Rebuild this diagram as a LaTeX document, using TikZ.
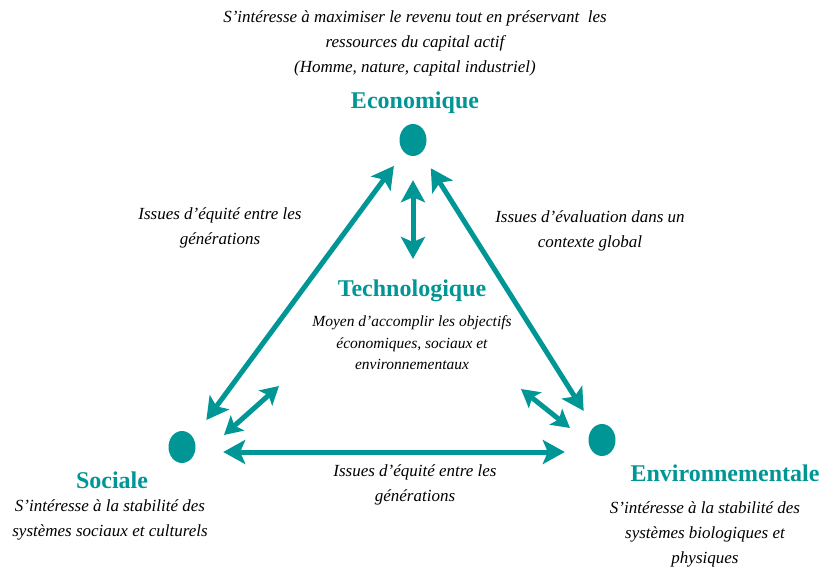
\documentclass[tikz,border=0pt]{standalone}
\usepackage{fontspec}
\setmainfont{Liberation Serif}
\usetikzlibrary{shapes.geometric, arrows.meta}
\definecolor{tealcolor}{RGB}{0, 150, 150}
\tikzset{
    % Corner dots
    dotnode/.style={
        ellipse, fill=tealcolor, inner sep=0pt,
        minimum width=27pt, minimum height=32pt
    },
    % Texts
    titlenode/.style={font=\fontsize{24}{28}\selectfont\bfseries, text=tealcolor, inner sep=0pt},
    notenode/.style={font=\fontsize{17}{25}\selectfont\itshape, align=center, inner sep=0pt},
    smallnote/.style={font=\fontsize{15.5}{21.5}\selectfont\itshape, align=center, inner sep=0pt},
    % Arrows
    myarrow/.style={
        {Stealth[length=22pt, width=24pt, inset=5pt]}-{Stealth[length=22pt, width=24pt, inset=5pt]},
        line width=5pt, tealcolor
    },
    smallarrow/.style={
        {Stealth[length=18pt, width=20pt, inset=4pt]}-{Stealth[length=18pt, width=20pt, inset=4pt]},
        line width=5pt, tealcolor
    },
}

\begin{document}
\begin{tikzpicture}[x=1pt, y=-1pt]
\useasboundingbox (0,0) rectangle (825,570);

% ===== Economique =====
\node (econote) [notenode] at (415,43) {
    S'intéresse à maximiser le revenu tout en préservant~ les\\
    ressources du capital actif\\
    (Homme, nature, capital industriel)
};
\node (econame) [titlenode] at (415,103) {Economique};
\node (eco) [dotnode] at (413,140) {};

% ===== Technologique =====
\node (techname) [titlenode] at (412,291) {Technologique};
\node (technote) [smallnote] at (412,343) {
    Moyen d'accomplir les objectifs\\
    économiques, sociaux et\\
    environnementaux
};

% ===== Sociale =====
\node (soc) [dotnode] at (182,447) {};
\node (socname) [titlenode] at (112,480) {Sociale};
\node (socnote) [notenode] at (110,520) {
    S'intéresse à la stabilité des\\
    systèmes sociaux et culturels
};

% ===== Environnementale =====
\node (env) [dotnode] at (602,440) {};
\node (envname) [titlenode] at (725,473) {Environnementale};
\node (envnote) [notenode] at (705,534) {
    S'intéresse à la stabilité des\\
    systèmes biologiques et\\
    physiques
};

% ===== Labels on the sides =====
\node (lblleft) [notenode] at (220,228) {Issues d'équité entre les\\ générations};
\node (lblright) [notenode] at (590,231) {Issues d'évaluation dans un\\ contexte global};
\node (lblbottom) [notenode] at (415,485) {Issues d'équité entre les\\ générations};

% ===== Arrows =====
\draw[myarrow, shorten <=41pt, shorten >=17pt] ([yshift=-6pt]soc.center) -- (eco);
\draw[myarrow, shorten <=18pt, shorten >=19pt] (eco) -- (env);
\draw[myarrow, shorten <=27.5pt, shorten >=23.5pt]
    ([yshift=-5pt]soc.east) -- ([yshift=-5pt]soc.east -| env.west);

% Towards Technologique
\coordinate (techtop) at (413,259);
\draw[myarrow, shorten <=24pt] (eco.south) -- (techtop);
\coordinate (socout) at (224,435);
\coordinate (socin) at (279,386);
\draw[smallarrow] (socout) -- (socin);
\coordinate (envin) at (521,389);
\coordinate (envout) at (570,428);
\draw[smallarrow] (envin) -- (envout);

\end{tikzpicture}
\end{document}
